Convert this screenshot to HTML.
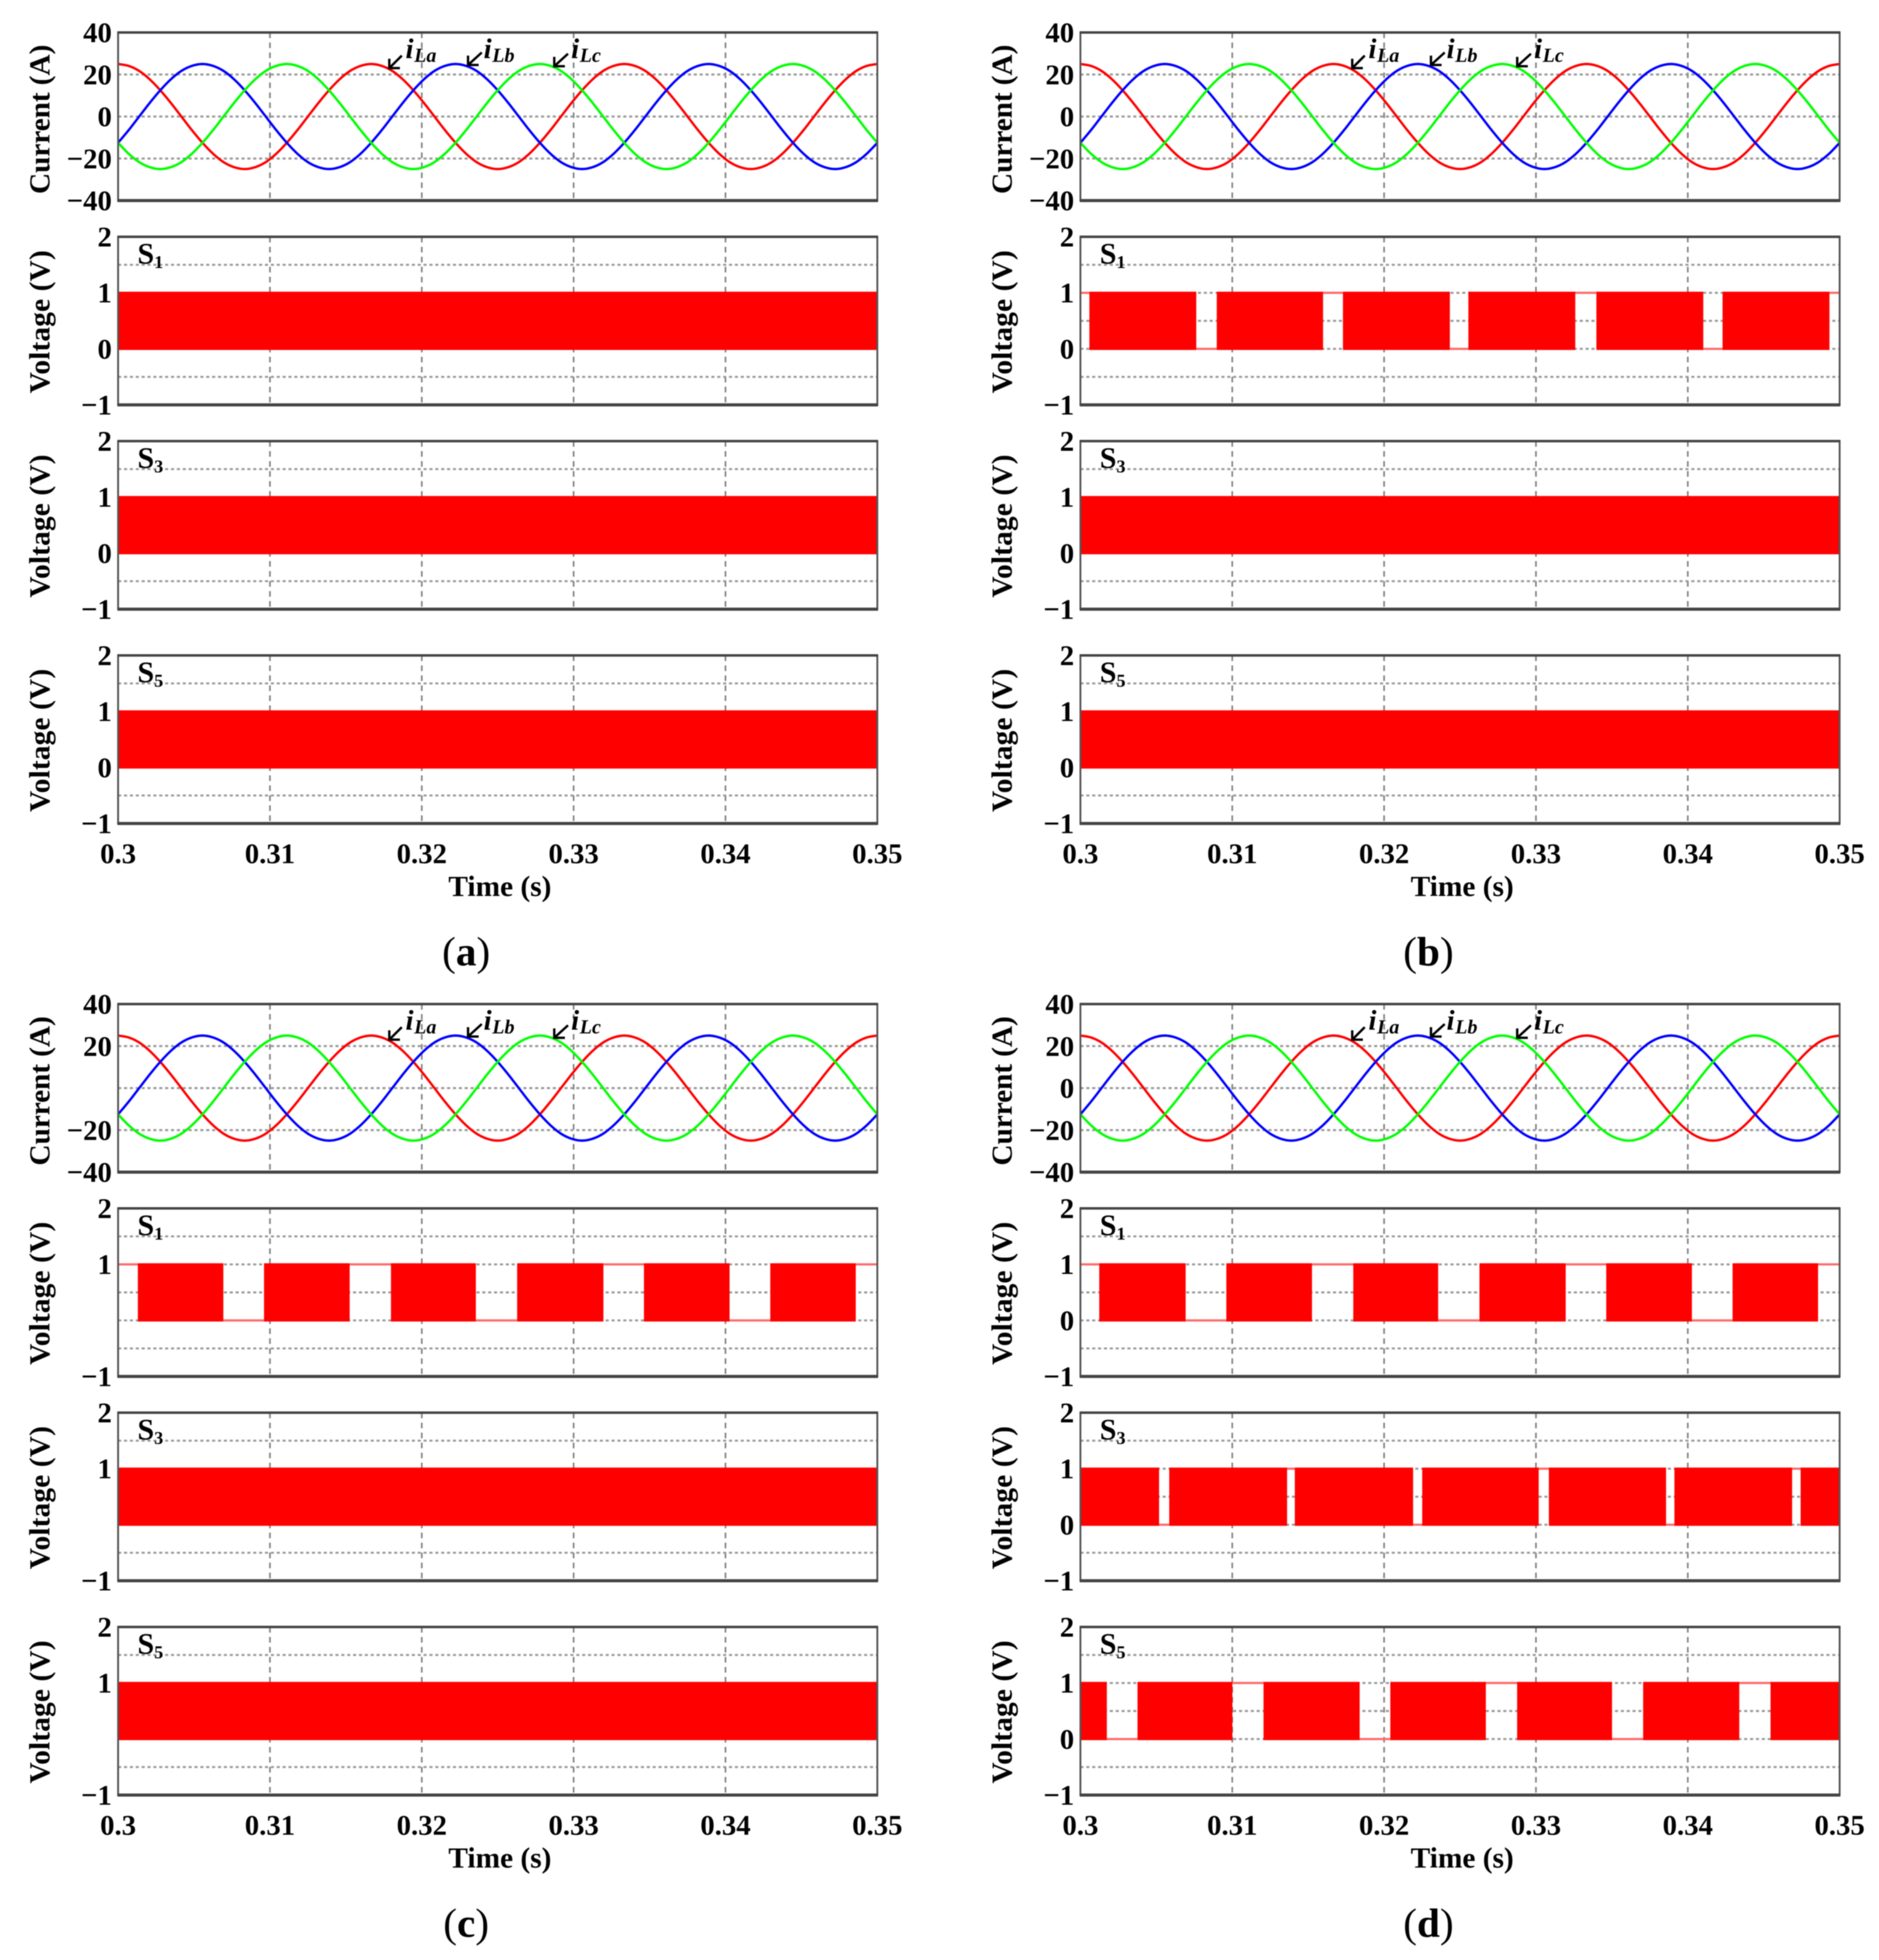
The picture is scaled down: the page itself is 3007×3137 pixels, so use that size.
<!DOCTYPE html>
<html lang="en">
<head>
<meta charset="utf-8">
<title>Three-phase load currents and switching signals</title>
<style>
html,body{margin:0;padding:0;background:#fff;width:3007px;height:3137px;overflow:hidden}
#chart{display:block;width:3007px;height:3137px;filter:blur(0.9px)}
text{font-family:"Liberation Serif",serif;fill:#000}
</style>
</head>
<body>
<svg id="chart" xmlns="http://www.w3.org/2000/svg" width="3007" height="3137" viewBox="0 0 3007 3137"></svg>
<script>
// ---------- data ----------
const timeTickValues = [0.3, 0.31, 0.32, 0.33, 0.34, 0.35];
const timeTickLabels = ['0.3', '0.31', '0.32', '0.33', '0.34', '0.35'];
const currentTickValues = [40, 20, 0, -20, -40];
const currentTickLabels = ['40', '20', '0', '\u221220', '\u221240'];
const currentTickValuesNoZero = [40, 20, -20, -40];
const currentTickLabelsNoZero = ['40', '20', '\u221220', '\u221240'];
const voltageTickValues = [2, 1, 0, -1];
const voltageTickLabels = ['2', '1', '0', '\u22121'];
const voltageTickValuesNoZero = [2, 1, -1];
const voltageTickLabelsNoZero = ['2', '1', '\u22121'];
const currentGridValues = [20, 0, -20];
const voltageGridValues = [1.5, 1, 0.5, 0, -0.5];

// load currents (A), evenly sampled from t = 0.3 s to t = 0.35 s
const currentA = [25,24.1,21.7,17.7,12.5,6.5,0,-6.5,-12.5,-17.7,-21.7,-24.1,-25,-24.1,-21.7,-17.7,-12.5,-6.5,0,6.5,12.5,17.7,21.7,24.1,
25,24.1,21.7,17.7,12.5,6.5,0,-6.5,-12.5,-17.7,-21.7,-24.1,-25,-24.1,-21.7,-17.7,-12.5,-6.5,0,6.5,12.5,17.7,21.7,24.1,
25,24.1,21.7,17.7,12.5,6.5,0,-6.5,-12.5,-17.7,-21.7,-24.1,-25,-24.1,-21.7,-17.7,-12.5,-6.5,0,6.5,12.5,17.7,21.7,24.1,25];
const currentB = [-12.5,-6.5,0,6.5,12.5,17.7,21.7,24.1,25,24.1,21.7,17.7,12.5,6.5,0,-6.5,-12.5,-17.7,-21.7,-24.1,-25,-24.1,-21.7,-17.7,
-12.5,-6.5,0,6.5,12.5,17.7,21.7,24.1,25,24.1,21.7,17.7,12.5,6.5,0,-6.5,-12.5,-17.7,-21.7,-24.1,-25,-24.1,-21.7,-17.7,
-12.5,-6.5,0,6.5,12.5,17.7,21.7,24.1,25,24.1,21.7,17.7,12.5,6.5,0,-6.5,-12.5,-17.7,-21.7,-24.1,-25,-24.1,-21.7,-17.7,-12.5];
const currentC = [-12.5,-17.7,-21.7,-24.1,-25,-24.1,-21.7,-17.7,-12.5,-6.5,0,6.5,12.5,17.7,21.7,24.1,25,24.1,21.7,17.7,12.5,6.5,0,-6.5,
-12.5,-17.7,-21.7,-24.1,-25,-24.1,-21.7,-17.7,-12.5,-6.5,0,6.5,12.5,17.7,21.7,24.1,25,24.1,21.7,17.7,12.5,6.5,0,-6.5,
-12.5,-17.7,-21.7,-24.1,-25,-24.1,-21.7,-17.7,-12.5,-6.5,0,6.5,12.5,17.7,21.7,24.1,25,24.1,21.7,17.7,12.5,6.5,0,-6.5,-12.5];

// switching bands: [start s, end s] of the high-frequency PWM envelope; levels: held value in each gap
const solidBands = [[0.3, 0.35]];
const noGapLevels = [];
const s1BandsB = [[0.30059,0.30763],[0.30898,0.31598],[0.31729,0.32433],[0.32555,0.33259],[0.33398,0.34102],[0.34229,0.34933]];
const s1LevelsB = [1,0,1,0,1,0,1];
const s1BandsC = [[0.30130,0.30693],[0.30961,0.31525],[0.31797,0.32356],[0.32628,0.33196],[0.33463,0.34027],[0.34295,0.34858]];
const s1LevelsC = [1,0,1,0,1,0,1];
const s1BandsD = [[0.30124,0.30693],[0.30961,0.31525],[0.31797,0.32356],[0.32628,0.33196],[0.33463,0.34027],[0.34295,0.34858]];
const s1LevelsD = [1,0,1,0,1,0,1];
const s3BandsD = [[0.3,0.30518],[0.30585,0.31361],[0.31412,0.32191],[0.32251,0.33018],[0.33085,0.33857],[0.33912,0.34687],[0.34743,0.35]];
const s3LevelsD = [0,1,0,1,0,1];
const s5BandsD = [[0.3,0.30174],[0.30376,0.31001],[0.31206,0.31839],[0.32041,0.32670],[0.32876,0.33501],[0.33706,0.34339],[0.34545,0.35]];
const s5LevelsD = [0,1,0,1,0,1];

// ---------- layout ----------
const NS = 'http://www.w3.org/2000/svg';
const root = document.getElementById('chart');
const T0 = 0.3, T1 = 0.35, PLOT_W = 1215, PLOT_H = 269;
const ROW_TOPS = [52, 379, 706, 1049];

const panelDefs = [
  {id:'a', left:189,  dy:0,    noZero:false, bands:[solidBands,solidBands,solidBands], levels:[noGapLevels,noGapLevels,noGapLevels]},
  {id:'b', left:1729, dy:0,    noZero:false, bands:[s1BandsB,solidBands,solidBands],   levels:[s1LevelsB,noGapLevels,noGapLevels]},
  {id:'c', left:189,  dy:1555, noZero:true,  bands:[s1BandsC,solidBands,solidBands],   levels:[s1LevelsC,noGapLevels,noGapLevels]},
  {id:'d', left:1729, dy:1555, noZero:false, bands:[s1BandsD,s3BandsD,s5BandsD],       levels:[s1LevelsD,s3LevelsD,s5LevelsD]}
];

function el(tag, parent) {
  const e = document.createElementNS(NS, tag);
  parent.appendChild(e);
  return e;
}
function xAxis(left, t) { return left + (t - T0) / (T1 - T0) * PLOT_W; }
function yCurrent(top, v) { return top + (40 - v) / 80 * PLOT_H; }
function yVoltage(top, v) { return top + (2 - v) / 3 * PLOT_H; }

function drawLine(parent, x1, y1, x2, y2, stroke, width, dash) {
  const l = el('line', parent);
  l.setAttribute('x1', x1);
  l.setAttribute('y1', y1);
  l.setAttribute('x2', x2);
  l.setAttribute('y2', y2);
  l.setAttribute('stroke', stroke);
  l.setAttribute('stroke-width', width);
  if (dash) l.setAttribute('stroke-dasharray', dash);
  return l;
}
function drawText(parent, x, y, str, size, anchor, weight) {
  const t = el('text', parent);
  t.setAttribute('x', x);
  t.setAttribute('y', y);
  t.setAttribute('font-size', size);
  t.setAttribute('text-anchor', anchor);
  t.setAttribute('font-weight', weight);
  t.textContent = str;
  return t;
}

function drawGrid(g, left, top, yFn, gridValues) {
  timeTickValues.slice(1, -1).forEach(function (t) {
    const x = xAxis(left, t);
    const l = drawLine(g, x, top, x, top + PLOT_H, '#808080', 2.6, '9 7');
    
    
  });
  gridValues.forEach(function (v) {
    const y = yFn(top, v);
    const l = drawLine(g, left, y, left + PLOT_W, y, '#999', 3.2, '5 4.4');
    
    
  });
}

function drawFrame(g, left, top) {
  const f = el('rect', g);
  f.setAttribute('x', left);
  f.setAttribute('y', top);
  f.setAttribute('width', PLOT_W);
  f.setAttribute('height', PLOT_H);
  f.setAttribute('fill', 'none');
  f.setAttribute('stroke', '#555');
  f.setAttribute('stroke-width', 3);
  
  
  const tl = drawLine(g, left - 1, top, left + PLOT_W + 1, top, '#444', 4);
  
  
  const bl = drawLine(g, left - 1, top + PLOT_H, left + PLOT_W + 1, top + PLOT_H, '#444', 5);
  
  
}

function drawYTicks(g, left, top, yFn, values, labels) {
  values.forEach(function (v, i) {
    const t = drawText(g, left - 10, yFn(top, v) + 15.5, labels[i], 46, 'end', 'bold');
    
    
  });
}

function drawYTitle(g, x, cy, str, len) {
  const t = drawText(g, 0, 0, str, 47, 'middle', 'bold');
  t.setAttribute('transform', 'translate(' + x + ',' + cy + ') rotate(-90)');
  t.setAttribute('textLength', len);
  t.setAttribute('lengthAdjust', 'spacing');
  
  
}

function wavePath(series, left, top) {
  const pts = series.map(function (v, i) {
    const t = T0 + (T1 - T0) * i / (series.length - 1);
    return [xAxis(left, t), yCurrent(top, v)];
  });
  let d = 'M' + pts[0][0].toFixed(2) + ' ' + pts[0][1].toFixed(2);
  for (let i = 0; i < pts.length - 1; i++) {
    const p0 = pts[Math.max(i - 1, 0)], p1 = pts[i], p2 = pts[i + 1], p3 = pts[Math.min(i + 2, pts.length - 1)];
    const c1x = p1[0] + (p2[0] - p0[0]) / 6, c1y = p1[1] + (p2[1] - p0[1]) / 6;
    const c2x = p2[0] - (p3[0] - p1[0]) / 6, c2y = p2[1] - (p3[1] - p1[1]) / 6;
    d += 'C' + c1x.toFixed(2) + ' ' + c1y.toFixed(2) + ' ' + c2x.toFixed(2) + ' ' + c2y.toFixed(2) + ' ' + p2[0].toFixed(2) + ' ' + p2[1].toFixed(2);
  }
  return d;
}

function drawBands(g, left, top, bands, levels) {
  // held-level lines inside the gaps
  let cursor = T0, gapIndex = 0;
  bands.concat([[T1, T1]]).forEach(function (b) {
    if (b[0] > cursor + 1e-6 && gapIndex < levels.length) {
      const y = yVoltage(top, levels[gapIndex]);
      const l = drawLine(g, xAxis(left, cursor), y, xAxis(left, b[0]), y, '#ff6a6a', 3.5);
      
      
      gapIndex++;
    }
    cursor = b[1];
  });
  bands.forEach(function (b) {
    const r = el('rect', g);
    r.setAttribute('x', xAxis(left, b[0]));
    r.setAttribute('y', yVoltage(top, 1) - 1.8);
    r.setAttribute('width', xAxis(left, b[1]) - xAxis(left, b[0]));
    r.setAttribute('height', yVoltage(top, 0) - yVoltage(top, 1) + 3.6);
    r.setAttribute('fill', '#ff0000');
    
    
  });
}

function drawCurrentLabel(g, ox, oy, tip, tail, textX, sub) {
  const a = el('path', g);
  a.setAttribute('d', 'M' + (ox + tail[0]) + ' ' + (oy + tail[1]) + 'L' + (ox + tip[0]) + ' ' + (oy + tip[1]) +
    'M' + (ox + tip[0]) + ' ' + (oy + tip[1] - 15) + 'L' + (ox + tip[0]) + ' ' + (oy + tip[1]) + 'L' + (ox + tip[0] + 17) + ' ' + (oy + tip[1]));
  a.setAttribute('fill', 'none');
  a.setAttribute('stroke', '#000');
  a.setAttribute('stroke-width', 3.8);
  
  
  const t = drawText(g, ox + textX, oy + 93, 'i', 46, 'start', 'bold');
  t.setAttribute('font-style', 'italic');
  
  
  const s = el('tspan', t);
  s.setAttribute('font-size', 32);
  s.setAttribute('dy', 6);
  s.setAttribute('dx', 1);
  s.textContent = sub;
}

function drawPanel(p) {
  const group = el('g', root);
  
  
  const left = p.left, dy = p.dy;

  // current subplot
  const curTop = ROW_TOPS[0] + dy;
  const cur = el('g', group);
  
  
  drawGrid(cur, left, curTop, yCurrent, currentGridValues);
  [[currentA, '#ff0000', 'current-series-a'], [currentB, '#0000ff', 'current-series-b'], [currentC, '#00ff00', 'current-series-c']].forEach(function (s) {
    const w = el('path', cur);
    w.setAttribute('d', wavePath(s[0], left, curTop));
    w.setAttribute('fill', 'none');
    w.setAttribute('stroke', s[1]);
    w.setAttribute('stroke-width', 3.8);
    
    
  });
  drawFrame(cur, left, curTop);
  drawYTicks(cur, left, curTop, yCurrent,
    p.noZero ? currentTickValuesNoZero : currentTickValues,
    p.noZero ? currentTickLabelsNoZero : currentTickLabels);
  drawYTitle(cur, left - 110, curTop + 139, 'Current (A)', 239);

  const ox = left - 189 + (left > 189 ? 1 : 0);
  drawCurrentLabel(cur, ox, dy, [623, 109], [643, 89], 649, 'La');
  drawCurrentLabel(cur, ox, dy, [749, 104], [771, 84], 774, 'Lb');
  drawCurrentLabel(cur, ox, dy, [887, 106], [909, 86], 914, 'Lc');

  // switching subplots
  ['1', '3', '5'].forEach(function (num, i) {
    const top = ROW_TOPS[i + 1] + dy;
    const sub = el('g', group);
    
    
    drawGrid(sub, left, top, yVoltage, voltageGridValues);
    drawBands(sub, left, top, p.bands[i], p.levels[i]);
    drawFrame(sub, left, top);
    drawYTicks(sub, left, top, yVoltage,
      p.noZero ? voltageTickValuesNoZero : voltageTickValues,
      p.noZero ? voltageTickLabelsNoZero : voltageTickLabels);
    drawYTitle(sub, left - 110, top + 136, 'Voltage (V)', 229);
    const lab = drawText(sub, left + 31, top + 43, 'S', 48, 'start', 'bold');
    
    
    const n = el('tspan', lab);
    n.setAttribute('font-size', 29);
    n.setAttribute('dy', 7);
    n.textContent = num;
  });

  // x axis
  const bottom = ROW_TOPS[3] + dy + PLOT_H;
  timeTickValues.forEach(function (t, i) {
    const lab = drawText(group, xAxis(left, t), bottom + 63.5, timeTickLabels[i], 46, 'middle', 'bold');
    
    
  });
  const xt = drawText(group, left + 611, bottom + 116, 'Time (s)', 47, 'middle', 'bold');
  
  

  // panel caption
  const cap = drawText(group, left + 557, 1545 + dy, '(', 66, 'middle', 'normal');
  
  
  const letter = el('tspan', cap);
  letter.setAttribute('font-weight', 'bold');
  letter.textContent = p.id;
  const close = el('tspan', cap);
  close.textContent = ')';
}

panelDefs.forEach(drawPanel);
</script>
</body>
</html>
